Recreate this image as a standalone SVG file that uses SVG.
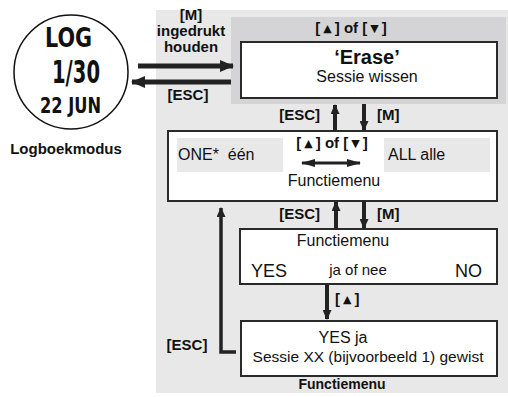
<svg xmlns="http://www.w3.org/2000/svg" width="508" height="397" viewBox="0 0 508 397">
<style>
.t{font-family:"Liberation Sans",Arial,sans-serif;fill:#111}
.b{font-weight:bold}
.box{fill:#fff;stroke:#2a2a2a;stroke-width:2}
.inner{fill:#e8e8e8}
.lcd{font-family:"Liberation Sans Narrow","DejaVu Sans Condensed",sans-serif;font-weight:bold;fill:#111}
.ar{stroke:#222;fill:none}
.tri{font-family:"DejaVu Sans",sans-serif;font-size:11px;font-weight:normal}
</style>
<defs>
<marker id="hBig" markerUnits="userSpaceOnUse" markerWidth="14" markerHeight="12" refX="13" refY="6" orient="auto"><path d="M0,0 L14,6 L0,12 Z" fill="#222"/></marker>
<marker id="hSm" markerUnits="userSpaceOnUse" markerWidth="10" markerHeight="9" refX="9" refY="4.5" orient="auto"><path d="M0,0 L10,4.5 L0,9 Z" fill="#222"/></marker>
<marker id="hDbl" markerUnits="userSpaceOnUse" markerWidth="14" markerHeight="8" refX="13" refY="4" orient="auto-start-reverse"><path d="M0,0 L14,4 L0,8 Z" fill="#222"/></marker>
</defs>
<rect x="156" y="10" width="352" height="383" fill="#e8e8e8"/>
<rect x="231" y="17" width="275" height="87" fill="#d4d4d6"/>

<g id="watch">
<circle cx="71" cy="72" r="57" fill="#fff" stroke="#111" stroke-width="1.5"/>
<text class="lcd" x="45" y="47" font-size="26" textLength="47" lengthAdjust="spacingAndGlyphs">LOG</text>
<text class="lcd" x="52" y="83" font-size="32" textLength="48" lengthAdjust="spacingAndGlyphs">1/30</text>
<text class="lcd" x="40" y="113" font-size="22" textLength="61" lengthAdjust="spacingAndGlyphs">22 JUN</text>
<text class="t b" x="66" y="154" font-size="15" text-anchor="middle">Logboekmodus</text>
</g>

<g id="erase">
<text class="t b" x="351" y="33" font-size="15" text-anchor="middle">[<tspan class="tri" dx="3" dy="-1">▲</tspan><tspan dx="3" dy="1">] of [</tspan><tspan class="tri" dx="3" dy="-1">▼</tspan><tspan dx="3" dy="1">]</tspan></text>
<rect class="box" x="241" y="42" width="256" height="56"/>
<text class="t b" x="367" y="64" font-size="20" text-anchor="middle">‘Erase’</text>
<text class="t" x="367" y="82" font-size="16" text-anchor="middle">Sessie wissen</text>
</g>

<g id="menu1">
<rect class="box" x="168" y="131" width="329" height="70"/>
<rect class="inner" x="177" y="138" width="106" height="34"/>
<rect class="inner" x="384" y="138" width="106" height="34"/>
<text class="t" x="178" y="160" font-size="16" xml:space="preserve">ONE*  één</text>
<text class="t" x="388" y="160" font-size="16">ALL alle</text>
<text class="t b" x="332" y="148" font-size="15" text-anchor="middle">[<tspan class="tri" dx="3" dy="-1">▲</tspan><tspan dx="3" dy="1">] of [</tspan><tspan class="tri" dx="3" dy="-1">▼</tspan><tspan dx="3" dy="1">]</tspan></text>
<text class="t" x="334" y="186" font-size="16" text-anchor="middle">Functiemenu</text>
</g>

<g id="menu2">
<rect class="box" x="240" y="229" width="257" height="55"/>
<text class="t" x="343" y="246" font-size="16" text-anchor="middle">Functiemenu</text>
<text class="t" x="251" y="277" font-size="18">YES</text>
<text class="t" x="358" y="275" font-size="15" text-anchor="middle">ja of nee</text>
<text class="t" x="482" y="277" font-size="18" text-anchor="end">NO</text>
</g>

<g id="menu3">
<rect class="box" x="241" y="321" width="256" height="55"/>
<text class="t" x="343" y="343" font-size="16" text-anchor="middle">YES  ja</text>
<text class="t" x="368" y="362" font-size="15.5" text-anchor="middle">Sessie XX (bijvoorbeeld 1) gewist</text>
<text class="t b" x="342" y="389" font-size="14" text-anchor="middle">Functiemenu</text>
</g>

<g id="connectors">
<line class="ar" x1="138" y1="66" x2="233" y2="66" stroke-width="5" marker-end="url(#hBig)"/>
<line class="ar" x1="231" y1="82" x2="132" y2="82" stroke-width="5" marker-end="url(#hBig)"/>
<text class="t b" x="191" y="20" font-size="15" text-anchor="middle">[M]</text>
<text class="t b" x="191" y="36" font-size="15" text-anchor="middle">ingedrukt</text>
<text class="t b" x="191" y="52" font-size="15" text-anchor="middle">houden</text>
<text class="t b" x="188" y="100" font-size="15" text-anchor="middle">[ESC]</text>

<line class="ar" x1="335" y1="131" x2="335" y2="105" stroke-width="4" marker-end="url(#hSm)"/>
<line class="ar" x1="364" y1="104" x2="364" y2="130" stroke-width="4" marker-end="url(#hSm)"/>
<text class="t b" x="320" y="120" font-size="15" text-anchor="end">[ESC]</text>
<text class="t b" x="377" y="120" font-size="15">[M]</text>

<line class="ar" x1="336" y1="229" x2="336" y2="202" stroke-width="4" marker-end="url(#hSm)"/>
<line class="ar" x1="364" y1="201" x2="364" y2="228" stroke-width="4" marker-end="url(#hSm)"/>
<text class="t b" x="320" y="219" font-size="15" text-anchor="end">[ESC]</text>
<text class="t b" x="377" y="219" font-size="15">[M]</text>

<line class="ar" x1="327" y1="284" x2="327" y2="319" stroke-width="4" marker-end="url(#hSm)"/>
<text class="t b" x="335" y="304" font-size="15">[<tspan class="tri" dx="3" dy="-1">▲</tspan><tspan dx="3" dy="1">]</tspan></text>

<polyline class="ar" points="236,352 221,352 221,208" stroke-width="3.5" marker-end="url(#hSm)"/>
<text class="t b" x="187" y="350" font-size="15" text-anchor="middle">[ESC]</text>

<line class="ar" x1="302" y1="163" x2="360" y2="163" stroke-width="3" marker-start="url(#hDbl)" marker-end="url(#hDbl)"/>
</g>
</svg>
